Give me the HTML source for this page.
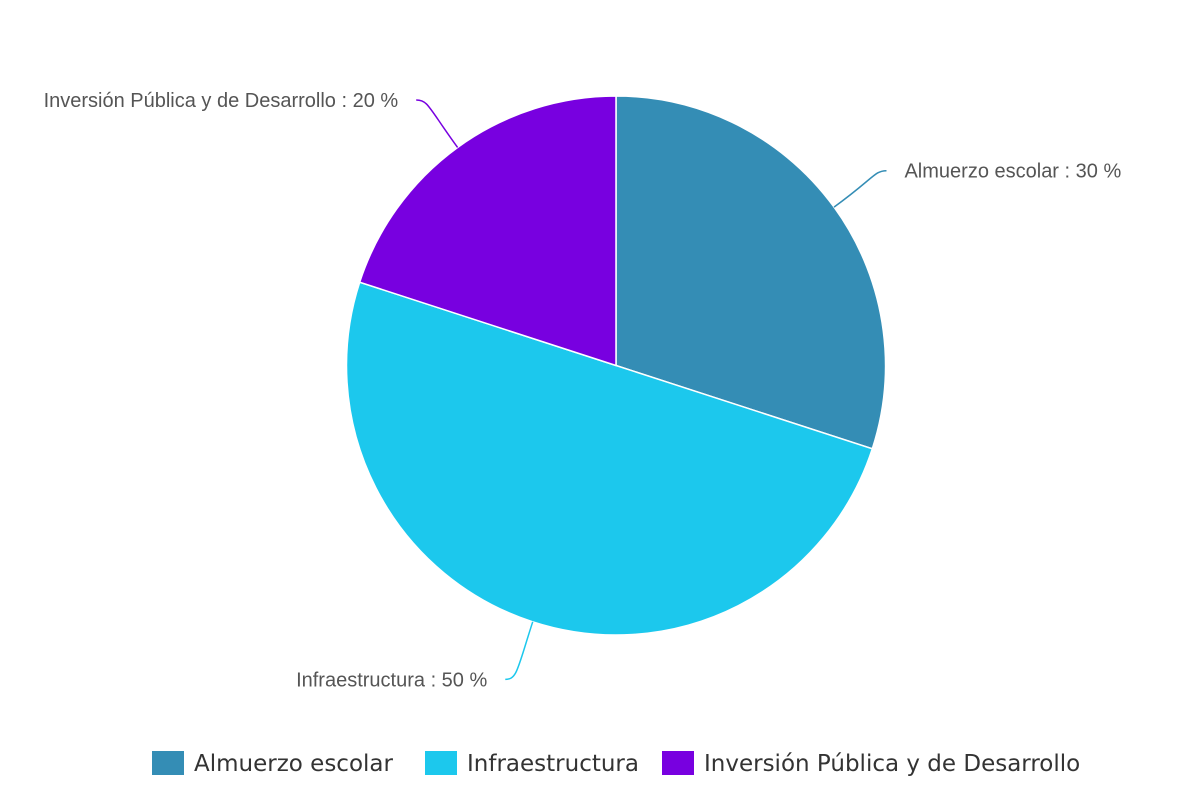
<!DOCTYPE html>
<html><head><meta charset="utf-8"><style>
html,body{margin:0;padding:0;background:#fff;}
svg{display:block;font-family:"Liberation Sans",sans-serif;}
</style></head><body>
<svg id="chart" width="1200" height="800">
<g id="slices"></g>
<g id="labels"></g>
<g id="legend"></g>
</svg>
<script>
const categories = ["Almuerzo escolar", "Infraestructura", "Inversión Pública y de Desarrollo"];
const values = [30, 50, 20];
const colors = ["#348db5", "#1cc8ed", "#7800e0"];
const NS = "http://www.w3.org/2000/svg";
const cx = 616, cy = 365.5, r = 269.5;
const total = values.reduce((a,b)=>a+b,0);
function pt(a, rad){ return [cx + rad*Math.sin(a), cy - rad*Math.cos(a)]; }
const gS = document.getElementById('slices'), gL = document.getElementById('labels'), gG = document.getElementById('legend');
let acc = 0;
values.forEach((v,i)=>{
  const a0 = acc/total*2*Math.PI; acc += v; const a1 = acc/total*2*Math.PI;
  const p0 = pt(a0,r), p1 = pt(a1,r);
  const large = (a1-a0) > Math.PI ? 1 : 0;
  const p = document.createElementNS(NS,'path');
  p.setAttribute('d',`M${cx},${cy} L${p0[0]},${p0[1]} A${r},${r} 0 ${large} 1 ${p1[0]},${p1[1]} Z`);
  p.setAttribute('fill',colors[i]); p.setAttribute('stroke','#fff'); p.setAttribute('stroke-width','1.5');
  
  
  gS.appendChild(p);
  const am = (a0+a1)/2;
  const e = pt(am, r);
  const right = Math.sin(am) >= 0;
  const ex = pt(am, r+50);
  const endX = right ? ex[0]+12 : ex[0]-12;
  const endY = Math.cos(am) > 0 ? ex[1]-7 : ex[1]+10;
  const ln = document.createElementNS(NS,'path');
  ln.setAttribute('d',`M${e[0]},${e[1]} C${ex[0]},${ex[1]} ${ex[0]},${endY} ${endX},${endY}`);
  ln.setAttribute('fill','none'); ln.setAttribute('stroke',colors[i]); ln.setAttribute('stroke-width','1.5');
  
  
  gL.appendChild(ln);
  const t = document.createElementNS(NS,'text');
  t.setAttribute('x', right ? endX+18 : endX-18);
  t.setAttribute('y', endY+7);
  t.setAttribute('text-anchor', right ? 'start' : 'end');
  t.setAttribute('font-size','20'); t.setAttribute('fill','#555');
  t.textContent = categories[i] + ' : ' + v + ' %';
  
  
  gL.appendChild(t);
});
const legX = [152, 425, 662];
categories.forEach((c,i)=>{
  const g = document.createElementNS(NS,'g');
  
  
  const rc = document.createElementNS(NS,'rect');
  rc.setAttribute('x',legX[i]); rc.setAttribute('y',751); rc.setAttribute('width',32); rc.setAttribute('height',24);
  rc.setAttribute('fill',colors[i]);
  g.appendChild(rc);
  const t = document.createElementNS(NS,'text');
  t.setAttribute('x',legX[i]+42); t.setAttribute('y',771);
  t.setAttribute('fill','#333'); t.setAttribute('font-family','"DejaVu Sans", sans-serif');
  t.setAttribute('font-size','23');
  t.textContent = c;
  g.appendChild(t);
  gG.appendChild(g);
});
</script>
</body></html>
